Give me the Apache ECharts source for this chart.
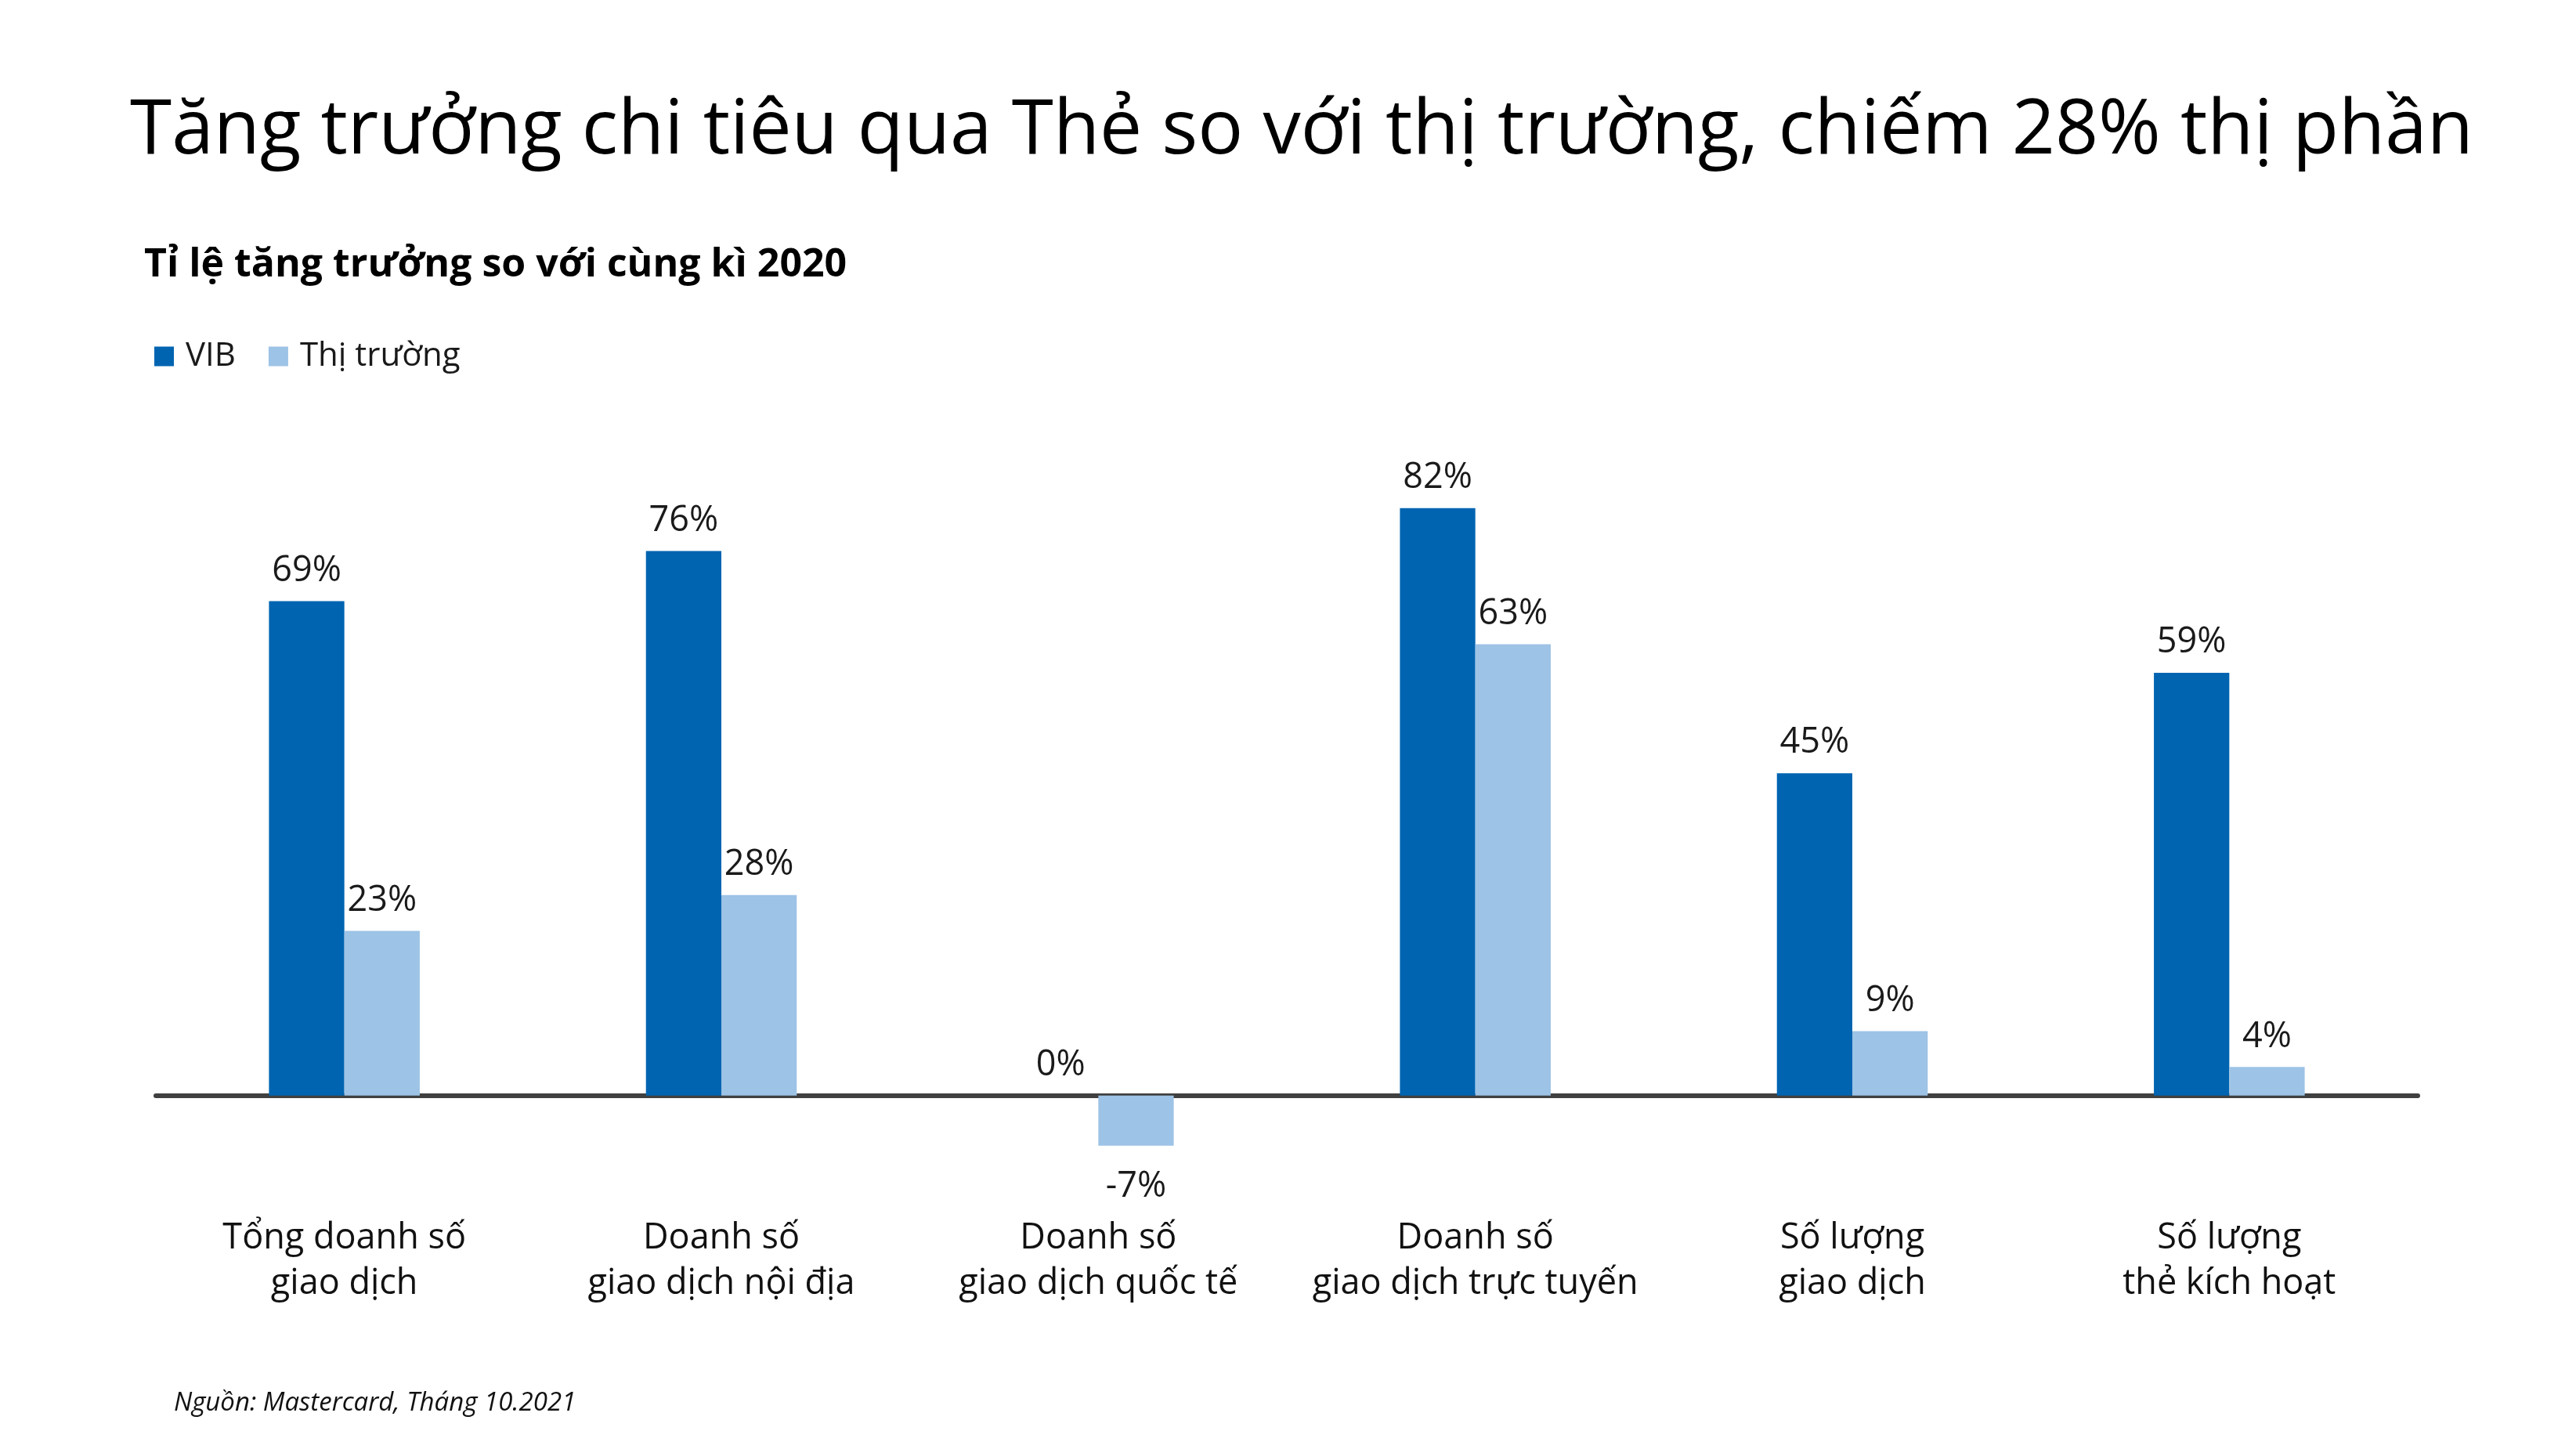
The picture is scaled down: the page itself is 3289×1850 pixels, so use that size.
<!DOCTYPE html>
<html>
<head>
<meta charset="utf-8">
<script src="https://cdn.jsdelivr.net/npm/echarts@6/dist/echarts.min.js"></script>
<style>
html,body{margin:0;padding:0;background:#fff;}
#chart{width:3289px;height:1850px;}
</style>
</head>
<body>
<div id="chart"></div>
<script>
const titleText = 'Tăng trưởng chi tiêu qua Thẻ so với thị trường, chiếm 28% thị phần';
const subtitleText = 'Tỉ lệ tăng trưởng so với cùng kì 2020';
const sourceText = 'Nguồn: Mastercard, Tháng 10.2021';
const seriesNames = ['VIB', 'Thị trường'];
const categories = [
  'Tổng doanh số\ngiao dịch',
  'Doanh số\ngiao dịch nội địa',
  'Doanh số\ngiao dịch quốc tế',
  'Doanh số\ngiao dịch trực tuyến',
  'Số lượng\ngiao dịch',
  'Số lượng\nthẻ kích hoạt'
];
const vibValues = [69, 76, 0, 82, 45, 59];
const marketValues = [23, 28, -7, 63, 9, 4];

const FONT = '"Open Sans", "Noto Sans", sans-serif';

function toData(arr) {
  return arr.map(v => v < 0
    ? { value: v, label: { position: 'bottom', distance: 30 } }
    : v);
}

const chart = echarts.init(document.getElementById('chart'), null, { renderer: 'canvas' });

const labelStyle = {
  show: true,
  position: 'top',
  distance: 16,
  formatter: '{c}%',
  fontFamily: FONT,
  fontSize: 45,
  color: '#1a1a1a'
};

chart.setOption({
  backgroundColor: '#ffffff',
  animation: false,
  textStyle: { fontFamily: FONT },
  title: [
    {
      text: titleText,
      left: 1662,
      textAlign: 'center',
      top: 110,
      padding: 0,
      textStyle: { fontFamily: FONT, fontSize: 96.5, fontWeight: 'normal', color: '#000', lineHeight: 118 }
    },
    {
      text: subtitleText,
      left: 184,
      top: 307,
      padding: 0,
      textStyle: { fontFamily: FONT, fontSize: 50, fontWeight: 'bold', color: '#000', lineHeight: 64 }
    },
    {
      text: sourceText,
      left: 222,
      top: 1772,
      padding: 0,
      textStyle: { fontFamily: FONT, fontSize: 33, fontStyle: 'italic', fontWeight: 'normal', color: '#111', lineHeight: 40 }
    }
  ],
  legend: {
    data: seriesNames,
    left: 197,
    top: 434,
    padding: 0,
    icon: 'rect',
    itemWidth: 25,
    itemHeight: 25,
    itemGap: 42,
    textStyle: { fontFamily: FONT, fontSize: 42, color: '#1a1a1a', padding: [0, 0, 0, 10] }
  },
  grid: {
    left: 199,
    right: 202,
    top: 484,
    bottom: 314,
    containLabel: false
  },
  xAxis: {
    type: 'category',
    data: categories,
    axisLine: { show: true, onZero: true, lineStyle: { color: '#404040', width: 6 } },
    axisTick: { show: false },
    axisLabel: {
      margin: 16,
      fontFamily: FONT,
      fontSize: 45,
      lineHeight: 58,
      color: '#111',
      interval: 0
    },
    splitLine: { show: false }
  },
  yAxis: {
    type: 'value',
    min: -15,
    max: 100,
    show: false,
    splitLine: { show: false }
  },
  series: [
    {
      name: seriesNames[0],
      type: 'bar',
      data: toData(vibValues),
      barWidth: '20%',
      barGap: '0%',
      itemStyle: { color: '#0064B1' },
      label: labelStyle,
      z: 1
    },
    {
      name: seriesNames[1],
      type: 'bar',
      data: toData(marketValues),
      barWidth: '20%',
      barGap: '0%',
      itemStyle: { color: '#9DC3E6' },
      label: labelStyle,
      z: 1
    }
  ]
});
</script>
</body>
</html>
